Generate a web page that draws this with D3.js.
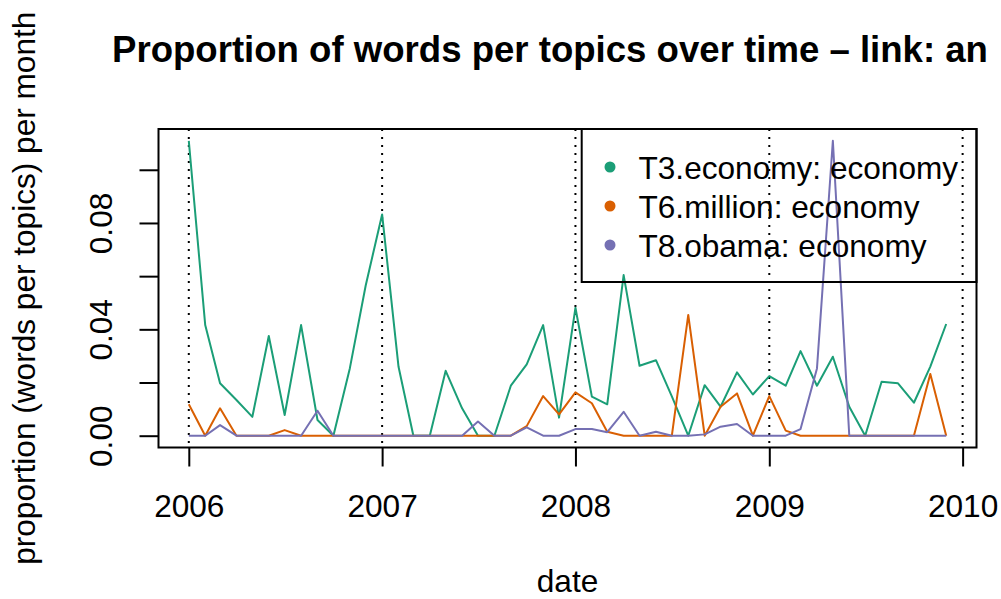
<!DOCTYPE html>
<html>
<head>
<meta charset="utf-8">
<script src="https://cdn.jsdelivr.net/npm/d3@7"></script>
<style>
  html, body { margin: 0; padding: 0; background: #fff; }
  svg { display: block; font-family: "Liberation Sans", Arial, Helvetica, sans-serif; }
</style>
</head>
<body>
<svg id="chart" width="1001" height="599"></svg>
<script>
// Monthly proportions, Jan 2006 .. Dec 2009
const months = d3.timeMonths(new Date(2006, 0, 1), new Date(2010, 0, 1));

const t3Economy = [
  0.1109, 0.0416, 0.0197, 0.0134, 0.0071, 0.0375, 0.0078, 0.0416, 0.0059, 0.0000, 0.0253, 0.0565,
  0.0832, 0.0259, 0.0000, 0.0000, 0.0244, 0.0103, 0.0000, 0.0000, 0.0188, 0.0268, 0.0416, 0.0068,
  0.0481, 0.0147, 0.0118, 0.0604, 0.0263, 0.0284, 0.0148, 0.0000, 0.0190, 0.0109, 0.0238, 0.0155,
  0.0224, 0.0188, 0.0318, 0.0188, 0.0297, 0.0109, 0.0000, 0.0203, 0.0197, 0.0124, 0.0260, 0.0420
];
const t6Million = [
  0.0118, 0.0000, 0.0103, 0.0000, 0.0000, 0.0000, 0.0021, 0.0000, 0.0000, 0.0000, 0.0000, 0.0000,
  0.0000, 0.0000, 0.0000, 0.0000, 0.0000, 0.0000, 0.0000, 0.0000, 0.0000, 0.0036, 0.0149, 0.0080,
  0.0163, 0.0122, 0.0015, 0.0000, 0.0000, 0.0000, 0.0000, 0.0454, 0.0000, 0.0109, 0.0159, 0.0000,
  0.0149, 0.0019, 0.0000, 0.0000, 0.0000, 0.0000, 0.0000, 0.0000, 0.0000, 0.0000, 0.0232, 0.0000
];
const t8Obama = [
  0.0000, 0.0000, 0.0040, 0.0000, 0.0000, 0.0000, 0.0000, 0.0000, 0.0094, 0.0000, 0.0000, 0.0000,
  0.0000, 0.0000, 0.0000, 0.0000, 0.0000, 0.0000, 0.0053, 0.0000, 0.0000, 0.0031, 0.0000, 0.0000,
  0.0025, 0.0025, 0.0013, 0.0090, 0.0000, 0.0015, 0.0000, 0.0000, 0.0005, 0.0034, 0.0044, 0.0000,
  0.0000, 0.0000, 0.0025, 0.0253, 0.1109, 0.0000, 0.0000, 0.0000, 0.0000, 0.0000, 0.0000, 0.0000
];

const seriesNames = ["T3.economy: economy", "T6.million: economy", "T8.obama: economy"];
const seriesValues = [t3Economy, t6Million, t8Obama];
const seriesColors = ["#1B9E77", "#D95F02", "#7570B3"];

const yearTicks = [2006, 2007, 2008, 2009, 2010];
const yTicks = [0, 0.02, 0.04, 0.06, 0.08, 0.10];
const yTickLabels = ["0.00", "", "0.04", "", "0.08", ""];

const titleText = "Proportion of words per topics over time \u2013 link: an";
const xLabel = "date";
const yLabel = "proportion (words per topics) per month";

const textSize = 31.6;

// plot region
const plotLeft = 158.5, plotRight = 976.5, plotTop = 129, plotBottom = 447.5;

const svg = d3.select("#chart");

// R-style 4% padding on both axes
const t0 = months[0], t1 = months[months.length - 1];
const padT = (t1 - t0) * 0.04;
const x = d3.scaleTime()
  .domain([new Date(+t0 - padT), new Date(+t1 + padT)])
  .range([plotLeft, plotRight]);

const yMax = d3.max(seriesValues.flat()), yMin = 0;
const padY = (yMax - yMin) * 0.04;
const y = d3.scaleLinear()
  .domain([yMin - padY, yMax + padY])
  .range([plotBottom, plotTop]);

// dotted year guides
svg.append("g")
  .selectAll("line")
  .data(yearTicks)
  .join("line")
  .attr("x1", d => x(new Date(d, 0, 1)))
  .attr("x2", d => x(new Date(d, 0, 1)))
  .attr("y1", plotTop)
  .attr("y2", plotBottom)
  .attr("stroke", "#000")
  .attr("stroke-width", 2)
  .attr("stroke-dasharray", "2,6");

// series lines
const line = d3.line()
  .x((d, i) => x(months[i]))
  .y(d => y(d));

svg.append("g")
  .selectAll("path")
  .data(seriesValues)
  .join("path")
  .attr("d", d => line(d))
  .attr("fill", "none")
  .attr("stroke", (d, i) => seriesColors[i])
  .attr("stroke-width", 2)
  .attr("stroke-linejoin", "round");

// x axis
const xAxis = svg.append("g")
  .attr("transform", `translate(0,${plotBottom})`)
  .call(d3.axisBottom(x)
    .tickValues(yearTicks.map(yr => new Date(yr, 0, 1)))
    .tickFormat(d3.timeFormat("%Y"))
    .tickSize(19)
    .tickSizeOuter(0));
xAxis.select(".domain").remove();
xAxis.selectAll(".tick line").attr("stroke", "#000").attr("stroke-width", 2);
xAxis.selectAll(".tick text")
  .attr("y", 69.5)
  .attr("dy", null)
  .attr("fill", "#000")
  .style("font-size", textSize + "px")
  .style("font-family", "'Liberation Sans', Arial, Helvetica, sans-serif");

// y axis
const yAxis = svg.append("g")
  .attr("transform", `translate(${plotLeft},0)`)
  .call(d3.axisLeft(y)
    .tickValues(yTicks)
    .tickFormat((d, i) => yTickLabels[i])
    .tickSize(19)
    .tickSizeOuter(0));
yAxis.select(".domain").remove();
yAxis.selectAll(".tick line").attr("stroke", "#000").attr("stroke-width", 2);
yAxis.selectAll(".tick text")
  .attr("x", null)
  .attr("dy", null)
  .attr("transform", "translate(-46.5,0) rotate(-90)")
  .attr("text-anchor", "middle")
  .attr("fill", "#000")
  .style("font-size", textSize + "px")
  .style("font-family", "'Liberation Sans', Arial, Helvetica, sans-serif");

// plot frame
svg.append("rect")
  .attr("x", plotLeft)
  .attr("y", plotTop)
  .attr("width", plotRight - plotLeft)
  .attr("height", plotBottom - plotTop)
  .attr("fill", "none")
  .attr("stroke", "#000")
  .attr("stroke-width", 2);

// title
svg.append("text")
  .attr("x", 112)
  .attr("y", 62)
  .attr("font-size", 36.6)
  .attr("font-weight", "bold")
  .attr("fill", "#000")
  .text(titleText);

// axis titles
svg.append("text")
  .attr("x", (plotLeft + plotRight) / 2)
  .attr("y", 592)
  .attr("text-anchor", "middle")
  .attr("font-size", textSize)
  .attr("fill", "#000")
  .text(xLabel);

svg.append("text")
  .attr("transform", `translate(35,${(plotTop + plotBottom) / 2}) rotate(-90)`)
  .attr("text-anchor", "middle")
  .attr("font-size", textSize)
  .attr("fill", "#000")
  .text(yLabel);

// legend
const legend = svg.append("g");
legend.append("rect")
  .attr("x", 581.7)
  .attr("y", plotTop)
  .attr("width", plotRight - 581.7)
  .attr("height", 282 - plotTop)
  .attr("fill", "none")
  .attr("stroke", "#000")
  .attr("stroke-width", 2);

const legendRows = legend.selectAll("g.row")
  .data(seriesNames)
  .join("g")
  .attr("class", "row")
  .attr("transform", (d, i) => `translate(610,${167 + i * 39})`);
legendRows.append("circle")
  .attr("r", 5.5)
  .attr("fill", (d, i) => seriesColors[i]);
legendRows.append("text")
  .attr("x", 28.5)
  .attr("y", 12)
  .attr("font-size", textSize)
  .attr("fill", "#000")
  .text(d => d);
</script>
</body>
</html>
